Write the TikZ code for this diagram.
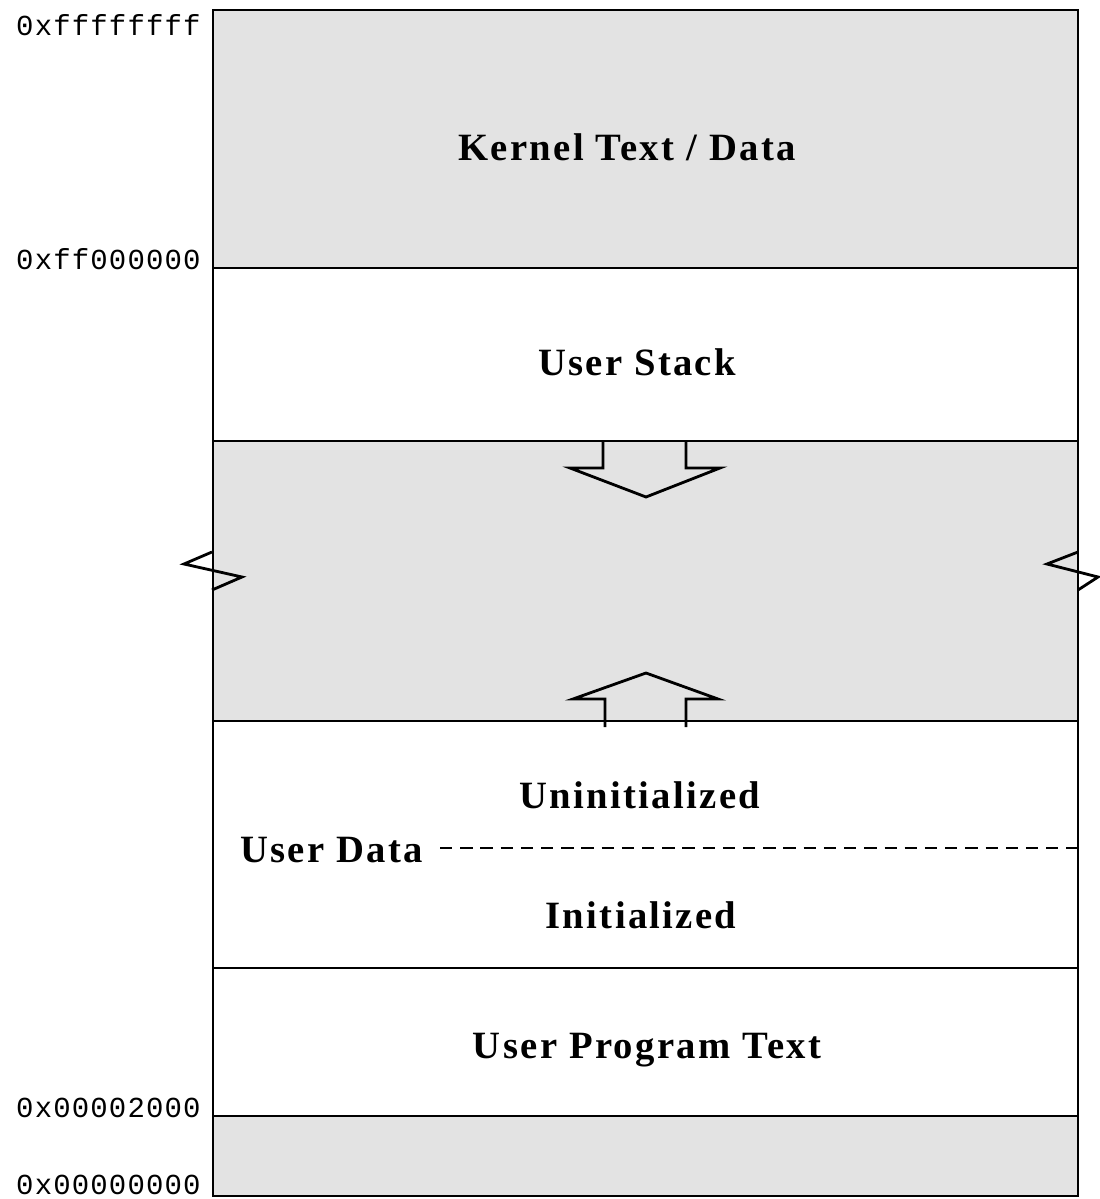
\documentclass[tikz,border=0pt]{standalone}
\usepackage{fontspec}
\setmainfont{Liberation Serif}[LetterSpace=6]
\newfontfamily\hexfont{Liberation Mono}[LetterSpace=4]
\definecolor{regiongray}{HTML}{E3E3E3}
\tikzset{
  region/.style={fill=regiongray,draw=black,line width=1.1pt},
  whiteregion/.style={fill=white,draw=black,line width=1.1pt},
  lbl/.style={font=\fontsize{22}{25}\selectfont\bfseries,inner sep=0pt},
  hex/.style={font=\hexfont\fontsize{16.5}{19}\selectfont,anchor=east,inner sep=0pt},
  growarrow/.style={draw=black,line width=1.6pt,line join=miter},
  brk/.style={draw=black,line width=1.6pt,line join=miter}
}
\begin{document}
\begin{tikzpicture}[x=0.02cm,y=-0.02cm]
\useasboundingbox (0,0) rectangle (1099,1199);
% regions
\path[region] (213,10) rectangle (1078,268);
\path[whiteregion] (213,268) rectangle (1078,441);
\path[region] (213,441) rectangle (1078,721);
\path[whiteregion] (213,721) rectangle (1078,968);
\path[whiteregion] (213,968) rectangle (1078,1116);
\path[region] (213,1116) rectangle (1078,1196);
% break marks
\path[brk] (212,552) -- (184,564) -- (242,577) -- (212,590);
\path[brk] (1078,552) -- (1047,564) -- (1098,577) -- (1078,590);
% growth arrows
\path[growarrow] (603,441) -- (603,468) -- (570,468) -- (646,497) -- (720,468) -- (686,468) -- (686,441);
\path[growarrow] (605,727) -- (605,699) -- (573,699) -- (646,673) -- (718,699) -- (686,699) -- (686,727);
% labels
\node[lbl] (kernel) at (627,147) {Kernel Text / Data};
\node[lbl] (stack) at (637,362) {User Stack};
\node[lbl] (uninit) at (640,795) {Uninitialized};
\node[lbl,anchor=west] (udata) at (240,850) {User Data};
\coordinate (dashstart) at (440,848);
\coordinate (dashend) at (1078,848);
\draw[line width=1.1pt,dash pattern=on 7pt off 4.5pt] (dashstart) -- (dashend);
\node[lbl] (init) at (641,915) {Initialized};
\node[lbl] (text) at (647,1050) {User Program Text};
% addresses
\node[hex] (a1) at (201,25) {0xffffffff};
\node[hex] (a2) at (201,259) {0xff000000};
\node[hex] (a3) at (201,1108) {0x00002000};
\node[hex] (a4) at (201,1185) {0x00000000};
\end{tikzpicture}
\end{document}
